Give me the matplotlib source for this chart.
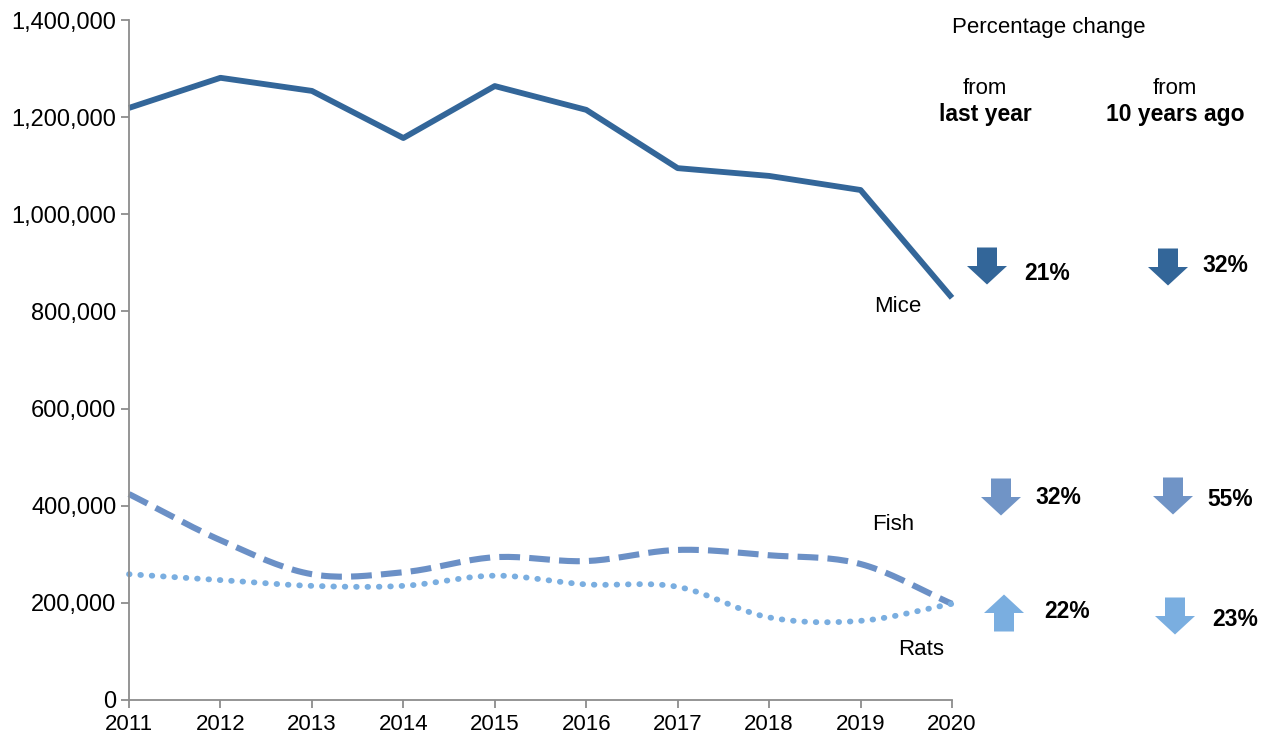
import matplotlib
matplotlib.use("Agg")

import numpy as np
import matplotlib.pyplot as plt
from matplotlib.patches import Polygon
from matplotlib.ticker import FuncFormatter

plt.rcParams["font.family"] = ["Liberation Sans", "DejaVu Sans"]

# ---------------------------------------------------------------------------
# Data
# ---------------------------------------------------------------------------
years = [2011, 2012, 2013, 2014, 2015, 2016, 2017, 2018, 2019, 2020]
mice = [1219000, 1281000, 1254000, 1157000, 1264000, 1215000, 1095000, 1079000, 1050000, 828000]
fish = [424000, 329000, 259000, 263000, 294000, 286000, 309000, 298000, 280000, 198000]
rats = [259000, 247000, 235000, 235000, 256000, 238000, 233000, 170000, 163000, 198000]

species = ["Mice", "Fish", "Rats"]
change_last_year = [-21, -32, 22]
change_10_years = [-32, -55, -23]

MICE_C = "#336699"
FISH_C = "#6b90c6"
RATS_C = "#7aaee0"


def smooth(x, y, n=20):
    # Catmull-Rom style curve through the points (like Excel's smoothed line)
    x = np.asarray(x, float)
    y = np.asarray(y, float)
    px = np.concatenate([[2 * x[0] - x[1]], x, [2 * x[-1] - x[-2]]])
    py = np.concatenate([[2 * y[0] - y[1]], y, [2 * y[-1] - y[-2]]])
    xs, ys = [], []
    t = np.linspace(0, 1, n, endpoint=False)
    for i in range(1, len(px) - 2):
        for arr, out in ((px, xs), (py, ys)):
            p0, p1, p2, p3 = arr[i - 1], arr[i], arr[i + 1], arr[i + 2]
            out.extend(0.5 * (2 * p1 + (-p0 + p2) * t
                              + (2 * p0 - 5 * p1 + 4 * p2 - p3) * t ** 2
                              + (-p0 + 3 * p1 - 3 * p2 + p3) * t ** 3))
    xs.append(x[-1])
    ys.append(y[-1])
    return np.array(xs), np.array(ys)


fig = plt.figure(figsize=(12.64, 7.40), dpi=100)
ax = fig.add_axes([129 / 1264, 40 / 740, 823 / 1264, 680 / 740])

ax.plot(years, mice, color=MICE_C, lw=4.2, solid_capstyle="butt", clip_on=False)
fx, fy = smooth(years, fish)
ax.plot(fx, fy, color=FISH_C, lw=4.4, dashes=(3.4, 1.5), clip_on=False)
rx, ry = smooth(years, rats)
ax.plot(rx, ry, color=RATS_C, lw=4.2, linestyle=(0, (0.1, 1.85)),
        dash_capstyle="round", clip_on=False)

ax.set_xlim(2011, 2020)
ax.set_ylim(0, 1400000)
ax.set_xticks(years)
ax.set_yticks(np.arange(0, 1400001, 200000))
ax.yaxis.set_major_formatter(FuncFormatter(lambda v, p: f"{int(v):,}"))

for side in ("top", "right"):
    ax.spines[side].set_visible(False)
for side in ("left", "bottom"):
    ax.spines[side].set_color("#8c8c8c")
    ax.spines[side].set_linewidth(1.3)
ax.tick_params(axis="both", colors="#8c8c8c", length=6, width=1.3,
               labelcolor="black")
ax.tick_params(axis="y", labelsize=17, pad=3)
ax.tick_params(axis="x", labelsize=16, pad=4)

# series labels
ax.text(2019.41, 811000, "Mice", fontsize=16, ha="center", va="center")
ax.text(2019.36, 362000, "Fish", fontsize=16, ha="center", va="center")
ax.text(2019.66, 103000, "Rats", fontsize=16, ha="center", va="center")

# ---------------------------------------------------------------------------
# Percentage change panel (pixel coordinates over the whole figure)
# ---------------------------------------------------------------------------
ov = fig.add_axes([0, 0, 1, 1])
ov.set_xlim(0, 1264)
ov.set_ylim(740, 0)
ov.axis("off")

ov.text(1049, 27, "Percentage change", fontsize=16, ha="center", va="center")
ov.text(985, 89, "from", fontsize=16, ha="center", va="center")
ov.text(985, 115, "last year", fontsize=16.5, ha="center", va="center", fontweight="bold")
ov.text(1175, 88, "from", fontsize=16, ha="center", va="center")
ov.text(1175, 115, "10 years ago", fontsize=16.5, ha="center", va="center", fontweight="bold")

arrow_colors = [MICE_C, "#7094c6", RATS_C]
# per row: arrow x, arrow y, text x, text y  (last year / 10 years ago)
last_pos = [(987, 266, 1047, 273), (1001, 497, 1058, 497), (1004, 613, 1067, 611)]
ten_pos = [(1168, 267, 1225, 265), (1173, 496, 1230, 500), (1175, 616, 1235, 620)]


def draw_arrow(cx, cy, up, color, w=40, h=37):
    shaft = w * 0.5
    head = h * 0.5
    s = -1 if up else 1
    tip = cy + s * h / 2
    base = cy - s * h / 2
    neck = tip - s * head
    pts = [(cx - shaft / 2, base), (cx + shaft / 2, base), (cx + shaft / 2, neck),
           (cx + w / 2, neck), (cx, tip), (cx - w / 2, neck), (cx - shaft / 2, neck)]
    ov.add_patch(Polygon(pts, closed=True, color=color, lw=0))


for vals, pos in ((change_last_year, last_pos), (change_10_years, ten_pos)):
    for i, v in enumerate(vals):
        axx, axy, tx, ty = pos[i]
        draw_arrow(axx, axy, v > 0, arrow_colors[i])
        ov.text(tx, ty, f"{abs(v)}%", fontsize=16.5, fontweight="bold",
                ha="center", va="center")

fig.savefig("out.png", dpi=100)
